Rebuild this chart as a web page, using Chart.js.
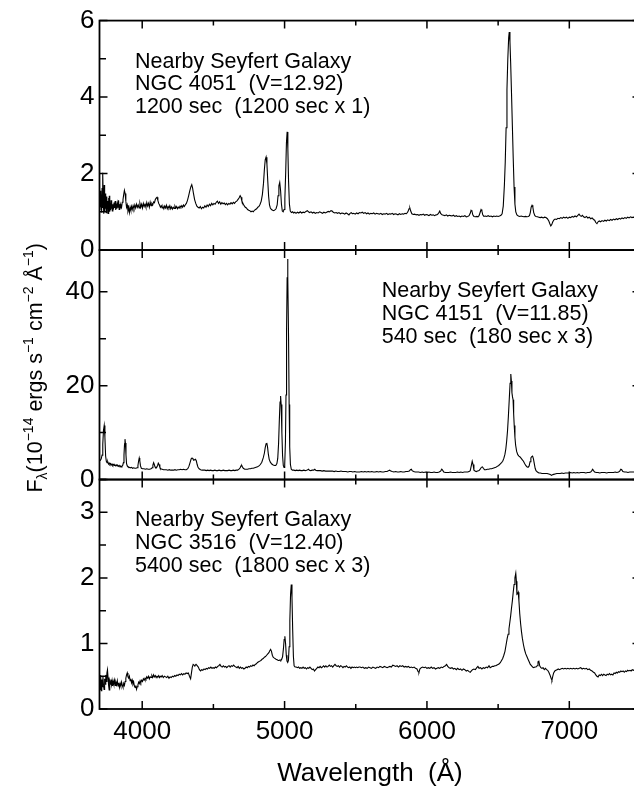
<!DOCTYPE html>
<html>
<head>
<meta charset="utf-8">
<script src="https://cdn.jsdelivr.net/npm/chart.js@4.4.1/dist/chart.umd.min.js"></script>
<style>
  html, body { margin: 0; padding: 0; background: #fff; overflow: hidden; }
  canvas { display: block; }
</style>
</head>
<body>
<!-- the original frame runs a few pixels past the right edge of the picture -->
<canvas id="spectra" width="641" height="791"></canvas>
<script>
// spectra: [wavelength (A), flux (1e-14 erg/s/cm2/A)]
const ngc4051 = [
  [3700,1.30],[3703,1.05],[3706,1.55],[3709,1.12],[3712,1.45],[3715,0.98],[3718,1.62],[3721,1.10],[3724,2.02],[3727,1.25],
  [3730,0.95],[3733,1.70],[3736,1.02],[3739,1.48],[3742,1.08],[3745,1.35],[3748,0.98],[3751,1.40],[3754,1.10],[3757,1.28],
  [3760,0.96],[3763,1.36],[3766,1.05],[3769,1.42],[3772,1.00],[3775,1.22],[3778,1.04],[3781,1.30],[3784,1.08],[3787,1.25],
  [3790,1.02],[3794,1.20],[3798,1.06],[3802,1.24],[3806,1.10],[3810,1.28],[3814,1.05],[3818,1.18],[3822,1.08],[3826,1.22],
  [3830,1.12],[3834,1.30],[3838,1.06],[3842,1.20],[3846,1.10],[3850,1.18],[3855,1.12],[3860,1.25],[3865,1.32],[3870,1.45],
  [3875,1.56],[3880,1.48],[3885,1.28],[3890,1.12],[3895,1.18],[3900,1.02],[3905,1.10],[3910,0.98],[3915,1.12],[3920,1.04],
  [3925,1.14],[3930,1.06],[3936,1.16],[3942,1.08],[3948,1.18],[3954,1.10],[3960,1.20],[3966,1.12],[3972,1.18],[3978,1.10],
  [3984,1.22],[3990,1.12],[3996,1.20],[4002,1.10],[4008,1.22],[4014,1.14],[4020,1.20],[4026,1.12],[4032,1.24],[4038,1.15],
  [4044,1.22],[4050,1.12],[4056,1.25],[4062,1.16],[4068,1.22],[4074,1.18],[4080,1.26],[4086,1.24],[4092,1.32],[4098,1.36],
  [4104,1.38],[4110,1.30],[4116,1.22],[4122,1.18],[4128,1.12],[4134,1.16],[4140,1.10],[4146,1.14],[4152,1.08],[4158,1.15],
  [4164,1.10],[4170,1.17],[4176,1.08],[4182,1.14],[4188,1.10],[4194,1.16],[4200,1.08],[4206,1.13],[4212,1.07],[4218,1.12],
  [4224,1.09],[4230,1.15],[4236,1.10],[4242,1.14],[4248,1.08],[4254,1.12],[4260,1.10],[4266,1.15],[4272,1.12],[4278,1.16],
  [4284,1.12],[4290,1.18],[4296,1.14],[4302,1.18],[4310,1.22],[4318,1.30],[4326,1.42],[4334,1.55],[4342,1.66],[4348,1.71],
  [4354,1.62],[4360,1.48],[4368,1.32],[4376,1.22],[4384,1.15],[4392,1.12],[4400,1.10],[4408,1.14],[4416,1.08],[4424,1.12],
  [4432,1.10],[4440,1.16],[4448,1.12],[4456,1.18],[4464,1.14],[4472,1.20],[4480,1.16],[4488,1.22],[4496,1.18],[4504,1.22],
  [4512,1.20],[4520,1.25],[4528,1.28],[4536,1.22],[4544,1.26],[4552,1.20],[4560,1.24],[4568,1.21],[4576,1.23],[4584,1.19],
  [4592,1.22],[4600,1.18],[4608,1.22],[4616,1.20],[4624,1.24],[4632,1.21],[4640,1.25],[4648,1.22],[4656,1.26],[4664,1.28],
  [4672,1.32],[4680,1.36],[4688,1.42],[4694,1.38],[4700,1.28],[4708,1.22],[4716,1.16],[4724,1.12],[4732,1.10],[4740,1.06],
  [4748,1.04],[4756,1.03],[4764,1.00],[4772,1.02],[4780,1.00],[4788,1.04],[4796,1.06],[4804,1.08],[4812,1.12],[4820,1.14],
  [4828,1.20],[4836,1.28],[4844,1.45],[4852,1.75],[4858,2.10],[4864,2.36],[4870,2.43],[4876,2.25],[4882,1.80],[4888,1.40],
  [4894,1.18],[4900,1.10],[4908,1.06],[4916,1.04],[4924,1.03],[4932,1.05],[4940,1.08],[4948,1.18],[4954,1.42],[4960,1.68],
  [4966,1.77],[4972,1.55],[4978,1.20],[4984,1.02],[4990,1.00],[4996,1.06],[5002,1.35],[5008,2.05],[5013,2.80],[5018,3.09],
  [5023,2.65],[5028,1.80],[5034,1.20],[5040,1.02],[5048,0.98],[5056,1.00],[5064,0.97],[5072,0.99],[5080,0.96],[5090,0.99],
  [5100,0.97],[5110,1.00],[5120,0.97],[5130,0.99],[5140,0.98],[5150,1.01],[5160,1.03],[5168,1.00],[5176,0.98],[5186,1.00],
  [5196,0.97],[5206,0.99],[5216,0.96],[5226,0.98],[5236,0.97],[5246,1.00],[5256,0.98],[5266,0.96],[5276,0.99],[5286,0.97],
  [5296,0.99],[5306,1.01],[5316,1.00],[5326,1.03],[5334,1.02],[5342,0.99],[5352,0.97],[5362,0.98],[5372,0.96],[5382,0.98],
  [5392,0.95],[5402,0.97],[5412,0.96],[5422,0.94],[5432,0.97],[5442,0.95],[5452,0.92],[5460,0.96],[5468,0.98],[5476,0.95],
  [5486,0.96],[5496,0.94],[5506,0.97],[5516,0.95],[5526,0.98],[5536,0.97],[5546,0.99],[5556,0.96],[5566,0.98],[5576,0.95],
  [5586,0.97],[5596,0.94],[5606,0.96],[5616,0.95],[5626,0.97],[5636,0.94],[5646,0.96],[5656,0.95],[5666,0.94],[5676,0.96],
  [5686,0.93],[5696,0.95],[5706,0.94],[5716,0.96],[5726,0.93],[5736,0.95],[5746,0.94],[5756,0.96],[5766,0.93],[5776,0.95],
  [5786,0.94],[5796,0.92],[5806,0.95],[5816,0.93],[5826,0.95],[5836,0.94],[5846,0.96],[5856,0.95],[5866,1.00],[5874,1.08],
  [5880,1.10],[5886,1.02],[5894,0.95],[5904,0.93],[5914,0.94],[5924,0.92],[5934,0.93],[5944,0.91],[5954,0.93],[5964,0.92],
  [5974,0.94],[5984,0.91],[5994,0.93],[6004,0.92],[6014,0.90],[6024,0.93],[6034,0.91],[6044,0.92],[6054,0.90],[6064,0.92],
  [6074,0.93],[6084,0.98],[6090,1.02],[6096,0.96],[6106,0.92],[6116,0.91],[6126,0.90],[6136,0.92],[6146,0.89],[6156,0.91],
  [6166,0.90],[6176,0.89],[6186,0.91],[6196,0.88],[6206,0.90],[6216,0.88],[6226,0.89],[6236,0.87],[6246,0.89],[6256,0.88],
  [6266,0.90],[6276,0.87],[6286,0.88],[6296,0.90],[6304,0.96],[6310,1.04],[6316,1.02],[6322,0.92],[6330,0.88],[6340,0.87],
  [6350,0.88],[6358,0.87],[6366,0.90],[6374,0.99],[6380,1.06],[6386,1.02],[6392,0.92],[6400,0.88],[6410,0.89],[6420,0.88],
  [6430,0.90],[6440,0.88],[6450,0.89],[6460,0.87],[6470,0.89],[6480,0.88],[6490,0.89],[6500,0.88],[6510,0.89],[6520,0.91],
  [6528,0.95],[6536,1.15],[6544,1.70],[6550,2.30],[6556,3.20],[6562,4.20],[6568,5.00],[6574,5.55],[6578,5.70],[6583,5.45],
  [6588,4.90],[6594,4.10],[6600,3.25],[6606,2.40],[6612,1.65],[6618,1.20],[6624,1.00],[6632,0.92],[6642,0.89],[6652,0.88],
  [6662,0.89],[6672,0.88],[6682,0.87],[6692,0.88],[6702,0.87],[6712,0.88],[6720,0.90],[6726,0.98],[6732,1.12],[6738,1.17],
  [6744,1.12],[6750,0.98],[6758,0.90],[6766,0.88],[6776,0.87],[6786,0.86],[6796,0.85],[6806,0.86],[6816,0.84],[6826,0.86],
  [6836,0.85],[6846,0.82],[6856,0.76],[6864,0.68],[6870,0.63],[6876,0.66],[6884,0.74],[6892,0.79],[6900,0.81],[6910,0.80],
  [6920,0.83],[6930,0.82],[6940,0.85],[6950,0.83],[6960,0.86],[6970,0.84],[6980,0.86],[6990,0.83],[7000,0.86],[7010,0.85],
  [7020,0.88],[7030,0.86],[7040,0.89],[7050,0.87],[7060,0.91],[7068,0.94],[7076,0.90],[7084,0.88],[7092,0.91],[7100,0.87],
  [7110,0.85],[7120,0.88],[7130,0.84],[7140,0.86],[7150,0.82],[7160,0.84],[7170,0.80],[7178,0.78],[7186,0.72],[7194,0.69],
  [7202,0.74],[7210,0.76],[7220,0.74],[7230,0.77],[7240,0.75],[7250,0.78],[7260,0.76],[7270,0.79],[7280,0.77],[7290,0.80],
  [7300,0.78],[7310,0.81],[7320,0.79],[7330,0.82],[7340,0.80],[7350,0.83],[7360,0.81],[7370,0.84],[7380,0.82],[7390,0.85],
  [7400,0.83],[7410,0.86],[7420,0.84],[7430,0.87],[7440,0.85],[7450,0.86],[7460,0.85],[7470,0.87],[7480,0.85],[7490,0.86],
  [7500,0.85]
];

const ngc4151 = [
  [3700,4.0],[3706,4.1],[3712,4.4],[3718,5.2],[3723,7.5],[3728,10.5],[3733,11.5],[3738,9.0],[3743,5.0],[3748,3.9],
  [3753,3.6],[3758,3.8],[3763,3.3],[3768,3.5],[3773,3.2],[3778,3.4],[3783,3.1],[3788,3.3],[3793,3.0],[3798,3.2],
  [3803,3.0],[3808,3.1],[3813,2.9],[3818,3.1],[3823,2.9],[3828,3.0],[3833,2.8],[3838,3.0],[3843,2.8],[3848,2.9],
  [3853,2.7],[3858,2.9],[3863,3.0],[3868,3.6],[3872,5.2],[3876,7.6],[3879,8.6],[3882,7.8],[3886,5.2],[3890,3.4],
  [3895,2.9],[3900,2.7],[3908,2.6],[3916,2.5],[3924,2.6],[3932,2.4],[3940,2.5],[3948,2.4],[3956,2.4],[3964,2.5],
  [3970,3.0],[3975,4.0],[3979,4.6],[3983,4.0],[3988,2.9],[3994,2.4],[4002,2.3],[4012,2.3],[4022,2.2],[4032,2.3],
  [4042,2.2],[4052,2.2],[4062,2.3],[4070,2.5],[4075,3.1],[4080,3.6],[4085,3.2],[4090,2.7],[4096,2.5],[4102,2.6],
  [4108,3.0],[4113,3.5],[4118,3.2],[4124,2.6],[4130,2.3],[4140,2.2],[4150,2.1],[4160,2.1],[4170,2.1],[4180,2.0],
  [4190,2.1],[4200,2.0],[4210,2.0],[4220,2.0],[4230,2.1],[4240,2.0],[4250,2.1],[4260,2.1],[4270,2.2],[4280,2.1],
  [4290,2.2],[4300,2.1],[4310,2.1],[4320,2.3],[4328,2.8],[4336,3.6],[4344,4.4],[4350,4.6],[4356,4.4],[4362,4.1],
  [4368,4.2],[4374,4.3],[4380,4.0],[4386,3.2],[4392,2.6],[4400,2.3],[4410,2.1],[4420,2.0],[4430,2.0],[4440,2.0],
  [4450,1.9],[4460,2.0],[4470,1.9],[4480,2.0],[4490,1.9],[4500,1.9],[4510,2.0],[4520,1.9],[4530,1.9],[4540,2.0],
  [4550,1.9],[4560,1.9],[4570,2.0],[4580,1.9],[4590,1.9],[4600,1.9],[4610,2.0],[4620,1.9],[4630,1.9],[4640,2.0],
  [4650,1.9],[4660,2.0],[4670,2.0],[4680,2.2],[4688,2.5],[4694,2.9],[4699,3.0],[4704,2.7],[4710,2.4],[4720,2.2],
  [4730,2.2],[4740,2.2],[4750,2.3],[4760,2.3],[4770,2.4],[4780,2.4],[4790,2.5],[4800,2.6],[4810,2.7],[4820,2.9],
  [4830,3.2],[4840,3.7],[4850,4.6],[4858,5.6],[4864,6.8],[4870,7.6],[4875,7.8],[4880,7.0],[4886,5.4],[4892,4.3],
  [4900,3.7],[4910,3.3],[4920,3.1],[4930,3.0],[4938,3.0],[4946,3.4],[4952,4.5],[4958,7.8],[4963,12.5],[4968,16.5],
  [4972,17.8],[4976,16.0],[4981,10.0],[4986,5.0],[4991,3.0],[4996,2.6],[5001,3.2],[5006,8.0],[5010,18.0],[5014,32.0],
  [5018,43.0],[5021,47.0],[5024,43.0],[5028,30.0],[5032,16.0],[5036,7.0],[5041,3.2],[5047,2.2],[5055,2.0],[5065,2.0],
  [5075,1.9],[5085,2.0],[5095,1.9],[5105,2.0],[5115,1.9],[5125,1.9],[5135,2.0],[5145,1.9],[5155,2.0],[5162,2.1],
  [5168,2.2],[5174,2.0],[5184,1.9],[5194,2.0],[5204,2.0],[5212,2.2],[5218,2.0],[5228,1.9],[5240,1.9],[5252,1.9],
  [5264,1.8],[5276,1.9],[5288,1.8],[5300,1.8],[5312,1.8],[5324,1.8],[5336,1.8],[5348,1.7],[5360,1.8],[5372,1.7],
  [5384,1.7],[5396,1.8],[5408,1.7],[5420,1.7],[5432,1.7],[5444,1.6],[5456,1.7],[5468,1.7],[5480,1.6],[5492,1.7],
  [5504,1.6],[5516,1.6],[5528,1.6],[5540,1.7],[5552,1.6],[5564,1.7],[5576,1.6],[5588,1.7],[5600,1.6],[5612,1.7],
  [5624,1.6],[5636,1.6],[5648,1.7],[5660,1.6],[5672,1.7],[5684,1.6],[5696,1.6],[5708,1.7],[5720,1.7],[5730,1.9],
  [5738,2.0],[5746,1.8],[5756,1.7],[5768,1.6],[5780,1.7],[5792,1.6],[5804,1.6],[5816,1.7],[5828,1.6],[5840,1.6],
  [5852,1.7],[5864,1.7],[5876,1.8],[5884,2.1],[5890,2.2],[5896,1.9],[5906,1.7],[5918,1.6],[5930,1.6],[5942,1.6],
  [5954,1.5],[5966,1.6],[5978,1.5],[5990,1.6],[6002,1.5],[6014,1.6],[6026,1.5],[6038,1.5],[6050,1.6],[6062,1.5],
  [6074,1.5],[6086,1.6],[6096,1.8],[6104,2.2],[6110,2.0],[6118,1.6],[6130,1.5],[6142,1.5],[6154,1.5],[6166,1.6],
  [6178,1.5],[6190,1.5],[6202,1.5],[6214,1.6],[6226,1.5],[6238,1.6],[6250,1.5],[6262,1.6],[6274,1.6],[6286,1.6],
  [6296,1.7],[6304,1.9],[6312,3.0],[6318,3.9],[6324,3.2],[6330,2.0],[6338,1.8],[6346,1.7],[6356,1.8],[6366,1.9],
  [6374,2.2],[6382,2.6],[6390,2.7],[6396,2.4],[6404,2.1],[6414,2.1],[6424,2.2],[6434,2.2],[6444,2.3],[6454,2.3],
  [6464,2.4],[6474,2.5],[6484,2.6],[6494,2.8],[6504,3.0],[6514,3.3],[6524,3.6],[6532,3.9],[6540,4.5],[6548,5.4],
  [6554,6.5],[6560,8.2],[6566,10.4],[6572,13.5],[6578,17.0],[6584,20.5],[6589,22.5],[6593,21.0],[6597,18.5],[6601,17.6],
  [6605,17.0],[6609,14.0],[6613,11.5],[6618,9.0],[6623,7.3],[6630,6.0],[6638,5.3],[6646,5.0],[6654,4.8],[6662,4.5],
  [6670,4.2],[6678,3.9],[6686,3.4],[6694,3.0],[6702,2.7],[6710,2.6],[6718,2.9],[6724,3.8],[6730,4.6],[6736,4.9],
  [6742,5.0],[6748,4.4],[6754,3.4],[6760,2.4],[6766,1.9],[6776,1.6],[6786,1.4],[6796,1.4],[6808,1.3],[6820,1.3],
  [6832,1.3],[6844,1.3],[6856,1.2],[6866,1.1],[6874,0.9],[6882,1.0],[6890,1.1],[6900,1.2],[6912,1.3],[6924,1.3],
  [6936,1.3],[6948,1.4],[6960,1.3],[6972,1.4],[6984,1.4],[6996,1.4],[7008,1.5],[7020,1.4],[7032,1.5],[7044,1.4],
  [7056,1.5],[7068,1.4],[7080,1.5],[7092,1.5],[7104,1.5],[7116,1.4],[7128,1.5],[7140,1.5],[7150,1.6],[7158,1.9],
  [7164,2.2],[7170,1.9],[7178,1.6],[7190,1.5],[7202,1.5],[7214,1.4],[7226,1.5],[7238,1.5],[7250,1.5],[7262,1.4],
  [7274,1.5],[7286,1.5],[7298,1.5],[7310,1.5],[7322,1.6],[7334,1.5],[7346,1.6],[7354,1.8],[7362,2.2],[7368,2.1],
  [7376,1.7],[7388,1.6],[7400,1.6],[7412,1.5],[7424,1.6],[7436,1.6],[7448,1.6],[7460,1.6],[7480,1.6],[7500,1.6]
];

const ngc3516 = [
  [3700,0.44],[3704,0.30],[3708,0.52],[3712,0.28],[3716,0.45],[3720,0.34],[3724,0.50],[3728,0.36],[3732,0.30],[3736,0.46],
  [3740,0.38],[3744,0.52],[3748,0.42],[3752,0.55],[3756,0.60],[3760,0.48],[3764,0.36],[3768,0.29],[3772,0.42],[3776,0.38],
  [3780,0.45],[3784,0.37],[3788,0.43],[3792,0.35],[3796,0.42],[3800,0.38],[3805,0.44],[3810,0.36],[3815,0.41],[3820,0.37],
  [3825,0.43],[3830,0.35],[3835,0.40],[3840,0.33],[3845,0.39],[3850,0.35],[3855,0.41],[3860,0.36],[3865,0.33],[3870,0.39],
  [3875,0.36],[3880,0.42],[3885,0.47],[3890,0.52],[3895,0.55],[3900,0.49],[3905,0.47],[3910,0.50],[3915,0.43],[3920,0.46],
  [3925,0.40],[3930,0.44],[3935,0.38],[3940,0.41],[3945,0.35],[3950,0.33],[3955,0.36],[3960,0.30],[3965,0.34],[3970,0.37],
  [3975,0.41],[3980,0.39],[3985,0.43],[3990,0.40],[3996,0.44],[4002,0.42],[4008,0.46],[4014,0.44],[4020,0.47],[4026,0.45],
  [4032,0.49],[4038,0.47],[4044,0.50],[4050,0.46],[4056,0.49],[4062,0.48],[4068,0.51],[4074,0.48],[4080,0.52],[4086,0.49],
  [4092,0.51],[4098,0.48],[4104,0.50],[4110,0.49],[4116,0.51],[4122,0.48],[4128,0.50],[4134,0.49],[4140,0.51],[4148,0.48],
  [4156,0.50],[4164,0.49],[4172,0.48],[4180,0.50],[4188,0.47],[4196,0.49],[4204,0.48],[4212,0.50],[4220,0.49],[4228,0.51],
  [4236,0.50],[4244,0.52],[4252,0.51],[4260,0.53],[4268,0.52],[4276,0.54],[4284,0.52],[4292,0.54],[4300,0.53],[4308,0.55],
  [4316,0.54],[4324,0.55],[4332,0.50],[4340,0.46],[4346,0.55],[4352,0.64],[4358,0.68],[4364,0.67],[4370,0.66],[4378,0.68],
  [4386,0.66],[4394,0.64],[4402,0.60],[4410,0.58],[4418,0.60],[4426,0.59],[4434,0.61],[4442,0.60],[4450,0.62],[4458,0.61],
  [4466,0.63],[4474,0.62],[4482,0.64],[4490,0.62],[4498,0.63],[4506,0.62],[4514,0.64],[4522,0.63],[4530,0.65],[4538,0.66],
  [4546,0.68],[4554,0.65],[4562,0.64],[4570,0.66],[4578,0.64],[4586,0.65],[4594,0.63],[4602,0.65],[4610,0.66],[4618,0.64],
  [4626,0.66],[4634,0.65],[4642,0.67],[4650,0.65],[4658,0.64],[4666,0.63],[4674,0.65],[4682,0.62],[4690,0.64],[4698,0.62],
  [4706,0.63],[4714,0.61],[4722,0.62],[4730,0.64],[4738,0.63],[4746,0.65],[4754,0.64],[4762,0.66],[4770,0.65],[4778,0.67],
  [4786,0.66],[4794,0.68],[4802,0.69],[4810,0.71],[4818,0.72],[4826,0.73],[4834,0.74],[4842,0.76],[4850,0.77],[4858,0.79],
  [4866,0.80],[4874,0.82],[4882,0.84],[4890,0.86],[4896,0.89],[4902,0.91],[4908,0.88],[4914,0.82],[4920,0.79],[4926,0.78],
  [4932,0.78],[4940,0.76],[4948,0.75],[4956,0.74],[4962,0.74],[4968,0.75],[4974,0.74],[4980,0.76],[4986,0.80],[4992,0.92],
  [4997,1.06],[5002,1.11],[5007,1.00],[5012,0.82],[5017,0.73],[5022,0.71],[5027,0.74],[5032,0.95],[5037,1.35],[5042,1.75],
  [5047,1.90],[5052,1.70],[5057,1.20],[5062,0.80],[5067,0.66],[5074,0.64],[5082,0.64],[5090,0.63],[5098,0.64],[5106,0.62],
  [5114,0.63],[5122,0.62],[5130,0.64],[5138,0.62],[5146,0.63],[5154,0.61],[5162,0.63],[5170,0.62],[5178,0.64],[5186,0.62],
  [5194,0.60],[5202,0.61],[5210,0.58],[5218,0.60],[5226,0.62],[5234,0.64],[5242,0.63],[5250,0.65],[5258,0.63],[5266,0.64],
  [5274,0.66],[5282,0.64],[5290,0.66],[5298,0.64],[5306,0.65],[5314,0.67],[5322,0.65],[5330,0.66],[5338,0.64],[5346,0.66],
  [5354,0.68],[5362,0.66],[5370,0.65],[5378,0.66],[5386,0.64],[5394,0.66],[5402,0.65],[5410,0.63],[5418,0.65],[5426,0.64],
  [5434,0.66],[5442,0.64],[5450,0.63],[5458,0.64],[5466,0.62],[5474,0.64],[5482,0.63],[5490,0.64],[5498,0.63],[5506,0.64],
  [5514,0.63],[5522,0.64],[5530,0.64],[5540,0.63],[5550,0.64],[5560,0.62],[5570,0.63],[5580,0.62],[5590,0.64],[5600,0.63],
  [5610,0.62],[5620,0.64],[5630,0.63],[5640,0.62],[5650,0.64],[5660,0.63],[5670,0.65],[5680,0.64],[5690,0.63],[5700,0.65],
  [5710,0.64],[5720,0.63],[5730,0.64],[5740,0.65],[5750,0.64],[5760,0.67],[5770,0.66],[5780,0.65],[5790,0.66],[5800,0.64],
  [5810,0.66],[5820,0.65],[5830,0.66],[5840,0.64],[5850,0.65],[5860,0.64],[5870,0.65],[5880,0.63],[5890,0.64],[5900,0.63],
  [5910,0.64],[5920,0.62],[5930,0.61],[5938,0.57],[5944,0.56],[5950,0.61],[5960,0.63],[5970,0.64],[5980,0.63],[5990,0.64],
  [6000,0.62],[6010,0.63],[6020,0.62],[6030,0.64],[6040,0.62],[6050,0.63],[6060,0.61],[6070,0.62],[6080,0.63],[6090,0.62],
  [6100,0.64],[6110,0.63],[6120,0.65],[6130,0.66],[6138,0.68],[6146,0.65],[6156,0.63],[6166,0.62],[6176,0.63],[6186,0.61],
  [6196,0.62],[6206,0.60],[6216,0.62],[6226,0.60],[6236,0.61],[6246,0.59],[6256,0.61],[6266,0.60],[6276,0.58],[6286,0.59],
  [6296,0.57],[6304,0.56],[6312,0.58],[6320,0.60],[6330,0.61],[6340,0.60],[6350,0.63],[6358,0.65],[6366,0.62],[6376,0.63],
  [6386,0.61],[6396,0.63],[6406,0.62],[6416,0.64],[6426,0.63],[6436,0.66],[6444,0.63],[6452,0.64],[6460,0.65],[6468,0.65],
  [6476,0.66],[6484,0.66],[6492,0.67],[6500,0.68],[6508,0.69],[6516,0.71],[6524,0.74],[6532,0.77],[6540,0.82],[6548,0.88],
  [6556,0.98],[6564,1.08],[6570,1.14],[6576,1.22],[6582,1.32],[6588,1.42],[6594,1.54],[6600,1.65],[6606,1.78],[6612,1.90],
  [6618,2.00],[6624,2.07],[6628,1.95],[6632,1.75],[6637,1.76],[6641,1.78],[6646,1.65],[6652,1.45],[6658,1.30],[6664,1.18],
  [6670,1.08],[6678,0.98],[6686,0.90],[6694,0.84],[6702,0.80],[6710,0.76],[6718,0.72],[6726,0.68],[6734,0.66],[6742,0.64],
  [6750,0.63],[6758,0.64],[6766,0.64],[6774,0.66],[6780,0.72],[6786,0.73],[6792,0.66],[6800,0.63],[6808,0.62],[6816,0.63],
  [6824,0.60],[6832,0.62],[6840,0.60],[6848,0.59],[6856,0.56],[6864,0.52],[6872,0.47],[6878,0.44],[6884,0.50],[6890,0.55],
  [6898,0.58],[6906,0.59],[6914,0.60],[6922,0.61],[6930,0.60],[6940,0.61],[6950,0.62],[6960,0.61],[6970,0.62],[6980,0.61],
  [6990,0.62],[7000,0.61],[7010,0.62],[7020,0.61],[7030,0.62],[7040,0.61],[7050,0.62],[7060,0.61],[7070,0.62],[7080,0.63],
  [7090,0.61],[7100,0.62],[7110,0.61],[7120,0.62],[7130,0.60],[7140,0.61],[7150,0.59],[7160,0.58],[7170,0.56],[7178,0.55],
  [7186,0.52],[7194,0.50],[7202,0.49],[7210,0.52],[7218,0.51],[7226,0.53],[7234,0.51],[7242,0.53],[7250,0.52],[7258,0.51],
  [7266,0.53],[7274,0.52],[7282,0.54],[7290,0.52],[7298,0.53],[7306,0.52],[7314,0.55],[7322,0.54],[7330,0.56],[7338,0.55],
  [7346,0.57],[7354,0.56],[7362,0.58],[7370,0.57],[7378,0.58],[7386,0.56],[7394,0.58],[7402,0.57],[7410,0.59],[7418,0.58],
  [7426,0.59],[7434,0.58],[7442,0.60],[7450,0.59],[7460,0.60],[7480,0.59],[7500,0.60]
];

// x tick labels, and axis ranges / tick steps with the top panel first
const waveTicks = [4000, 5000, 6000, 7000];
const panelIds = ["y1", "y2", "y3"];
const panelMax = [6, 48.9, 3.5];
const majorSteps = [2, 20, 1];
const minorSteps = [1, 10, 0.5];

const notes = [
  ["Nearby Seyfert Galaxy", "NGC 4051  (V=12.92)", "1200 sec  (1200 sec x 1)"],
  ["Nearby Seyfert Galaxy", "NGC 4151  (V=11.85)", "540 sec  (180 sec x 3)"],
  ["Nearby Seyfert Galaxy", "NGC 3516  (V=12.40)", "5400 sec  (1800 sec x 3)"]
];
// where each note block starts, in data units of its panel
const notePos = [[3949, 4.77], [5682, 38.9], [3949, 2.79]];

const FONT = "'Liberation Sans', Arial, Helvetica, sans-serif";

const toXY = (pairs) => pairs.map(([x, y]) => ({ x, y }));

function panelAxis(i) {
  return {
    type: "linear",
    position: "left",
    stack: "spectra",
    stackWeight: 1,
    min: 0,
    max: panelMax[i],
    grid: { display: false, drawTicks: false },
    border: { display: false },
    ticks: {
      stepSize: majorSteps[i],
      includeBounds: false,
      autoSkip: false,
      color: "#000",
      padding: 5,
      font: { family: FONT, size: 26 },
    },
    afterFit: (scale) => {
      scale.width = 99.5;
    },
  };
}

// frame, inward ticks on all sides, the notes and the y title
const framePlugin = {
  id: "frame",
  afterDraw(chart) {
    const { ctx } = chart;
    const xs = chart.scales.x;
    const left = xs.left;
    const right = xs.right;
    ctx.save();
    ctx.strokeStyle = "#000";
    ctx.fillStyle = "#000";

    panelIds.forEach((id, i) => {
      const ys = chart.scales[id];
      const top = ys.top;
      const bottom = ys.bottom;

      ctx.lineWidth = 1.5;
      ctx.beginPath();
      for (let k = 0; k * minorSteps[i] <= ys.max + 1e-9; k++) {
        const py = ys.getPixelForValue(k * minorSteps[i]);
        const len = k % 2 === 0 ? 8 : 6.5;
        ctx.moveTo(left, py);
        ctx.lineTo(left + len, py);
        ctx.moveTo(right, py);
        ctx.lineTo(right - len, py);
      }
      for (let w = Math.ceil(xs.min / 500) * 500; w <= xs.max; w += 500) {
        const px = xs.getPixelForValue(w);
        const len = w % 1000 === 0 ? 8 : 5;
        ctx.moveTo(px, bottom);
        ctx.lineTo(px, bottom - len);
        ctx.moveTo(px, top);
        ctx.lineTo(px, top + len);
      }
      ctx.stroke();

      ctx.lineWidth = 1.8;
      ctx.strokeRect(left, top, right - left, bottom - top);

      // note block
      ctx.font = "21.5px " + FONT;
      ctx.textAlign = "left";
      ctx.textBaseline = "alphabetic";
      const nx = xs.getPixelForValue(notePos[i][0]);
      const ny = ys.getPixelForValue(notePos[i][1]);
      notes[i].forEach((line, j) => ctx.fillText(line, nx, ny + j * 22.8));
    });

    // y title: F_lambda(10^-14 ergs s^-1 cm^-2 A^-1)
    const parts = [
      ["F", 0, 21.5], ["λ", 5, 14], ["(10", 0, 21.5], ["−14", -9, 14],
      [" ergs s", 0, 21.5], ["−1", -9, 14], [" cm", 0, 21.5], ["−2", -9, 14],
      [" Å", 0, 21.5], ["−1", -9, 14], [")", 0, 21.5]
    ];
    let total = 0;
    parts.forEach((p) => {
      ctx.font = p[2] + "px " + FONT;
      total += ctx.measureText(p[0]).width;
    });
    const midY = (chart.scales.y1.top + chart.scales.y3.bottom) / 2 + 3;
    ctx.translate(42, midY);
    ctx.rotate(-Math.PI / 2);
    ctx.textAlign = "left";
    ctx.textBaseline = "alphabetic";
    let cx = -total / 2;
    parts.forEach((p) => {
      ctx.font = p[2] + "px " + FONT;
      ctx.fillText(p[0], cx, p[1]);
      cx += ctx.measureText(p[0]).width;
    });
    ctx.restore();
  },
};

const ctx = document.getElementById("spectra").getContext("2d");

new Chart(ctx, {
  type: "line",
  data: {
    datasets: [
      { data: toXY(ngc4051), yAxisID: "y1" },
      { data: toXY(ngc4151), yAxisID: "y2" },
      { data: toXY(ngc3516), yAxisID: "y3" },
    ],
  },
  options: {
    responsive: false,
    animation: false,
    layout: { padding: { top: 14.3, right: 0.5, left: 0, bottom: 0 } },
    elements: {
      point: { radius: 0 },
      line: { borderWidth: 1.1, borderColor: "#000", tension: 0, fill: false },
    },
    plugins: {
      legend: { display: false },
      tooltip: { enabled: false },
    },
    scales: {
      x: {
        type: "linear",
        position: "bottom",
        min: 3700,
        max: 7500,
        grid: { display: false, drawTicks: false },
        border: { display: false },
        afterBuildTicks: (scale) => {
          scale.ticks = waveTicks.map((v) => ({ value: v }));
        },
        ticks: {
          autoSkip: false,
          maxRotation: 0,
          color: "#000",
          padding: 7,
          font: { family: FONT, size: 26 },
          callback: (v) => String(v),
        },
        title: {
          display: true,
          text: "Wavelength  (Å)",
          color: "#000",
          font: { family: FONT, size: 26 },
          padding: { top: 0, bottom: 2 },
        },
        afterFit: (scale) => {
          scale.height = 82;
        },
      },
      // stacked left axes are laid out bottom-up, so the lowest panel comes first
      y3: panelAxis(2),
      y2: panelAxis(1),
      y1: panelAxis(0),
    },
  },
  plugins: [framePlugin],
});
</script>
</body>
</html>
